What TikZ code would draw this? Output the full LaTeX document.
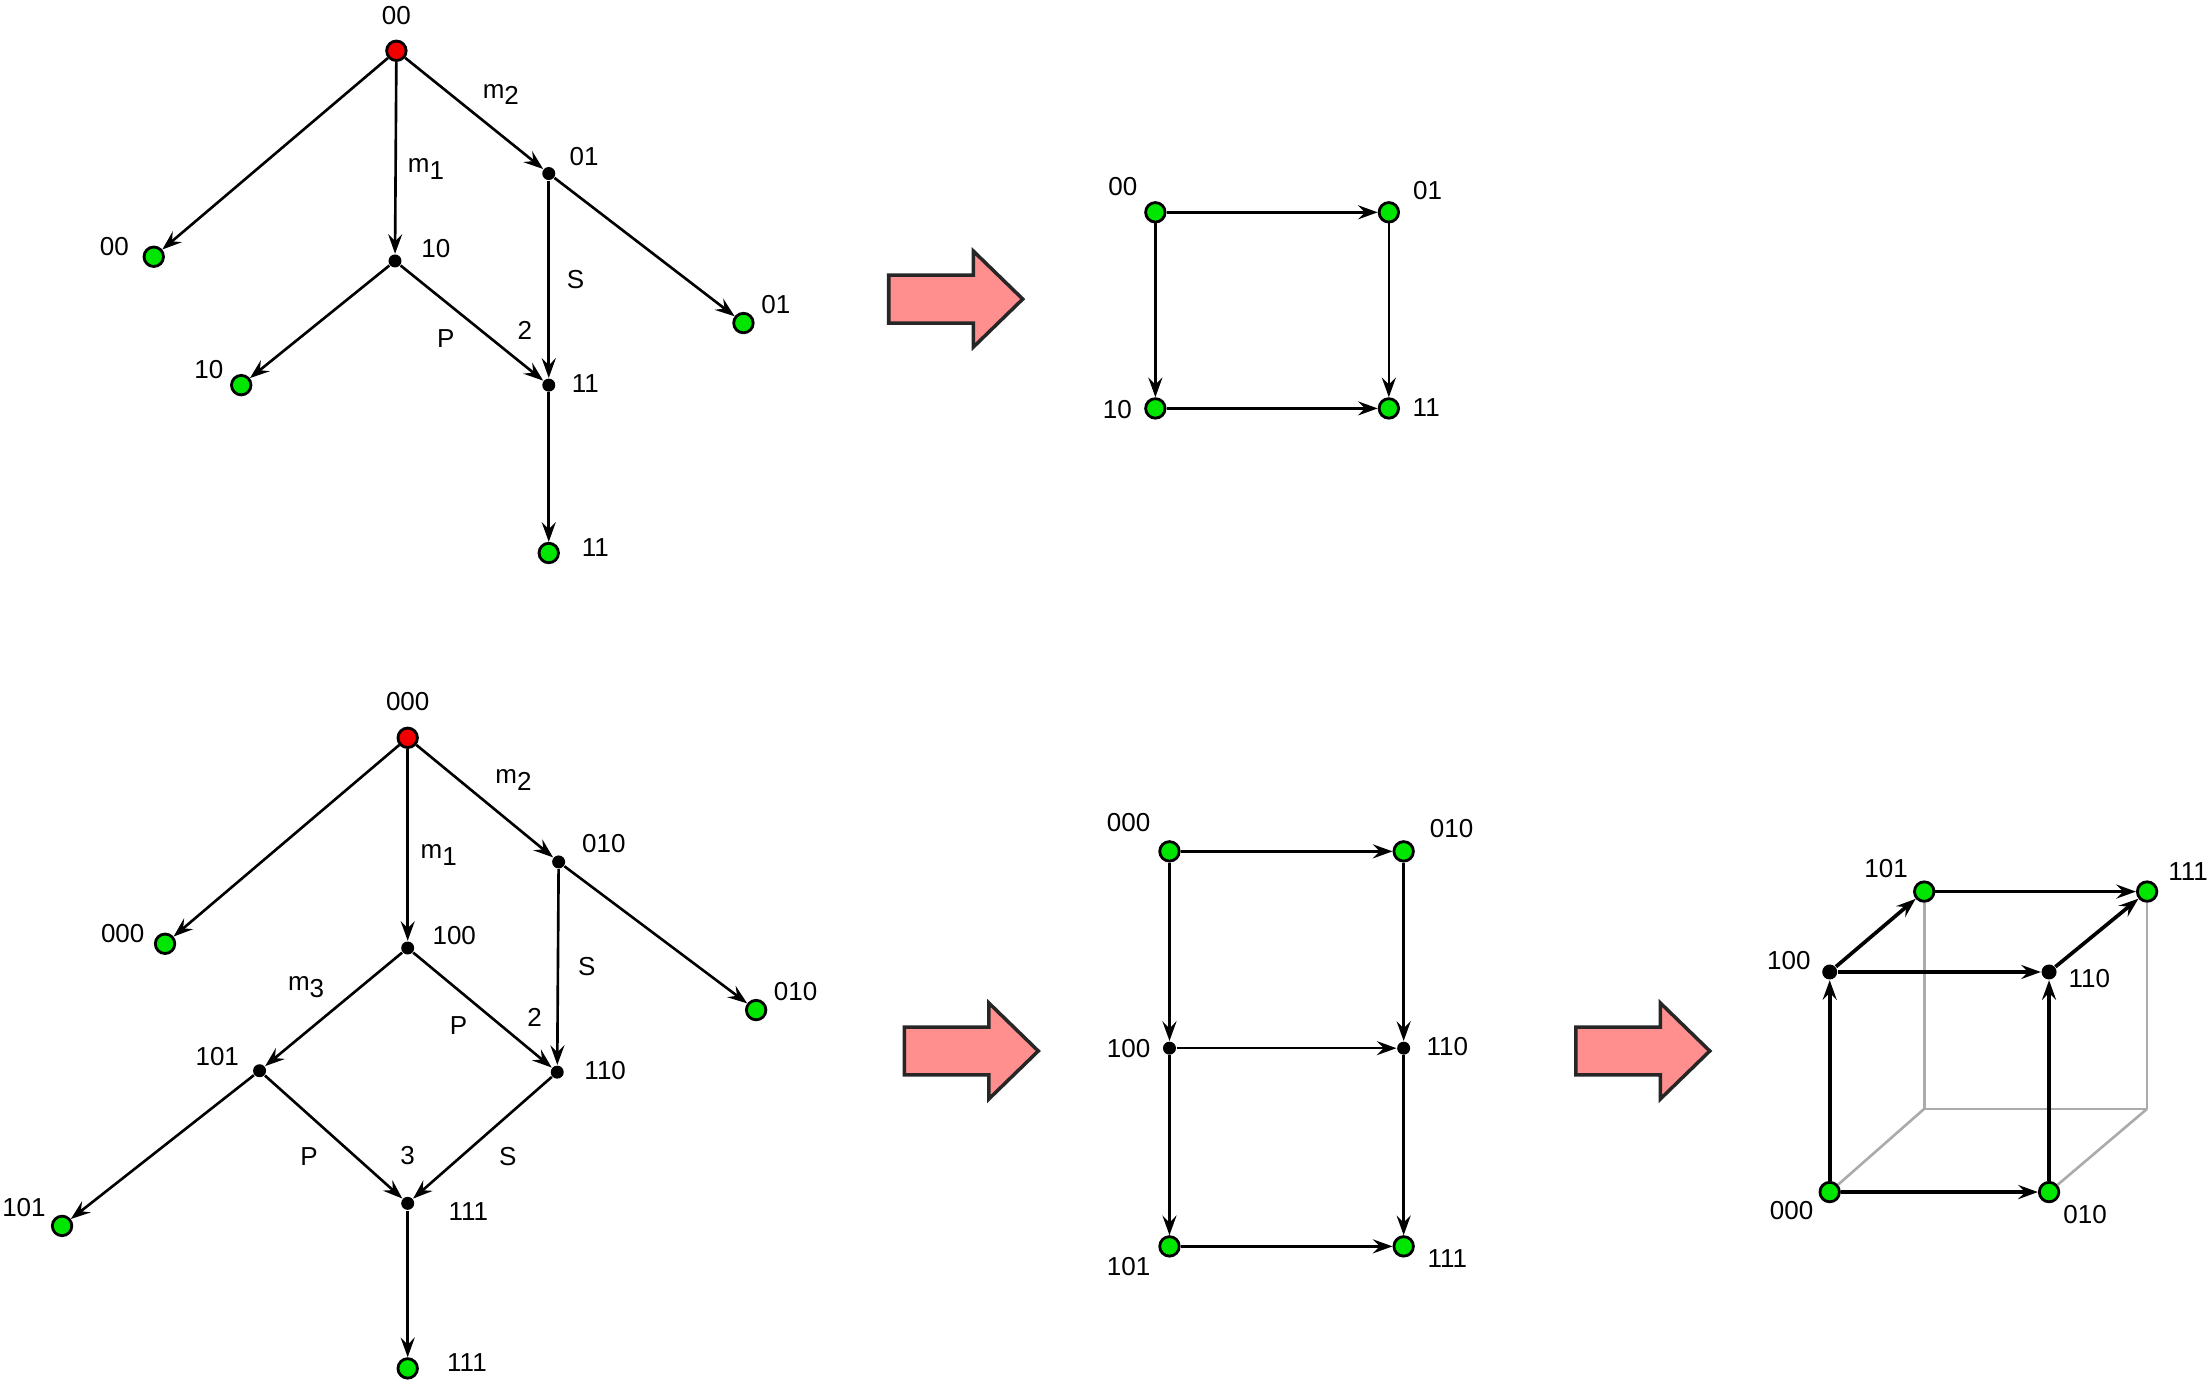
\documentclass[tikz,border=0pt]{standalone}
\usepackage{fontspec}
\setmainfont{Liberation Sans}
\usetikzlibrary{arrows.meta}
\definecolor{NodeGreen}{HTML}{00E600}
\definecolor{RootRed}{HTML}{F20000}
\definecolor{ArrowPink}{HTML}{FF8F8F}
\definecolor{HiddenGray}{HTML}{ABABAB}
\newcommand{\msub}[2]{#1\raisebox{-0.5ex}{#2}}
\tikzset{bigarrow/.pic={
  \draw[line width=1pt,draw=black!85,fill=ArrowPink,line join=miter]
    (-47,-17) -- (13,-17) -- (13,-34) -- (48,0) -- (13,34) -- (13,17) -- (-47,17) -- cycle;}}
\begin{document}
\begin{tikzpicture}[x=0.014107cm,y=-0.014107cm,>={Stealth[length=5.6pt,width=4pt,inset=2pt]}]
  \tikzstyle{leaf}=[circle,draw=black,line width=0.8pt,fill=NodeGreen,inner sep=0pt,minimum size=1.95mm]
  \tikzstyle{rootnode}=[leaf,fill=RootRed]
  \tikzstyle{midnode}=[circle,fill=black,inner sep=0pt,minimum size=1.3mm]
  \tikzstyle{cubenode}=[midnode,minimum size=1.5mm]
  \tikzstyle{lbl}=[inner sep=0pt,font=\fontsize{7.4}{8.5}\selectfont]
  \tikzstyle{arr}=[->,line width=0.75pt]
  \tikzstyle{cubearr}=[->,line width=1.05pt]
  \tikzstyle{hid}=[line width=0.75pt,draw=HiddenGray]
  \useasboundingbox (0,0) rectangle (1568,981);

  % top tree
  \node[rootnode] (r1) at (281,36) {};
  \node[leaf] (a00) at (109,182) {};
  \node[midnode] (a10) at (280,185) {};
  \node[midnode] (a01) at (389,123) {};
  \node[leaf] (a01l) at (527,229) {};
  \node[leaf] (a10l) at (171,273) {};
  \node[midnode] (a11) at (389,273) {};
  \node[leaf] (a11l) at (389,392) {};
  \node[lbl] (tr1) at (281,11) {00};
  \node[lbl] (ta00) at (81,175) {00};
  \node[lbl] (ta10) at (309,176) {10};
  \node[lbl] (ta01) at (414,111) {01};
  \node[lbl] (ta01l) at (550,216) {01};
  \node[lbl] (ta10l) at (148,262) {10};
  \node[lbl] (ta11) at (415,272) {11};
  \node[lbl] (ta11l) at (422,388) {11};
  \draw[arr] (r1) -- (a00);
  \draw[arr] (r1) -- (a10);
  \draw[arr] (r1) -- (a01);
  \draw[arr] (a01) -- (a01l);
  \draw[arr] (a01) -- (a11);
  \draw[arr] (a10) -- (a10l);
  \draw[arr] (a10) -- (a11);
  \draw[arr] (a11) -- (a11l);
  \node[lbl] (ma1) at (302,120) {\msub{m}{1}};
  \node[lbl] (ma2) at (355,67) {\msub{m}{2}};
  \node[lbl] (sa1) at (408,198) {S};
  \node[lbl] (pa1) at (316,240) {P};
  \node[lbl] (na2) at (372,234) {2};

  % top square
  \node[leaf] (s00) at (819,150.5) {};
  \node[leaf] (s01) at (984.5,150.5) {};
  \node[leaf] (s10) at (819,289.5) {};
  \node[leaf] (s11) at (984.5,289.5) {};
  \node[lbl] (ts00) at (796,132) {00};
  \node[lbl] (ts01) at (1012,135) {01};
  \node[lbl] (ts10) at (792,290) {10};
  \node[lbl] (ts11) at (1011,289) {11};
  \draw[arr] (s00) -- (s01);
  \draw[arr] (s00) -- (s10);
  \draw[arr] (s10) -- (s11);
  \draw[arr] (s01) -- (s11);

  % bottom tree
  \node[rootnode] (r2) at (289,523) {};
  \node[leaf] (b000) at (117,669) {};
  \node[midnode] (b100) at (289,672) {};
  \node[midnode] (b010) at (396,611) {};
  \node[leaf] (b010l) at (536,716) {};
  \node[midnode] (b101) at (184,759) {};
  \node[midnode] (b110) at (395,760) {};
  \node[midnode] (b111) at (289,853) {};
  \node[leaf] (b101l) at (44,869) {};
  \node[leaf] (b111l) at (289,970) {};
  \node[lbl] (tr2) at (289,497) {000};
  \node[lbl] (tb000) at (87,662) {000};
  \node[lbl] (tb100) at (322,663) {100};
  \node[lbl] (tb010) at (428,598) {010};
  \node[lbl] (tb010l) at (564,703) {010};
  \node[lbl] (tb101) at (154,749) {101};
  \node[lbl] (tb110) at (429,759) {110};
  \node[lbl] (tb111) at (332,859) {111};
  \node[lbl] (tb101l) at (17,856) {101};
  \node[lbl] (tb111l) at (331,966) {111};
  \draw[arr] (r2) -- (b000);
  \draw[arr] (r2) -- (b100);
  \draw[arr] (r2) -- (b010);
  \draw[arr] (b010) -- (b010l);
  \draw[arr] (b010) -- (b110);
  \draw[arr] (b100) -- (b101);
  \draw[arr] (b100) -- (b110);
  \draw[arr] (b101) -- (b101l);
  \draw[arr] (b101) -- (b111);
  \draw[arr] (b110) -- (b111);
  \draw[arr] (b111) -- (b111l);
  \node[lbl] (mb2) at (364,553) {\msub{m}{2}};
  \node[lbl] (mb1) at (311,606) {\msub{m}{1}};
  \node[lbl] (mb3) at (217,700) {\msub{m}{3}};
  \node[lbl] (pb1) at (325,727) {P};
  \node[lbl] (nb2) at (379,721) {2};
  \node[lbl] (sb1) at (416,685) {S};
  \node[lbl] (pb2) at (219,820) {P};
  \node[lbl] (nb3) at (289,819) {3};
  \node[lbl] (sb2) at (360,820) {S};

  % middle grid
  \node[leaf] (q000) at (829,603.5) {};
  \node[leaf] (q010) at (995,603.5) {};
  \node[midnode] (q100) at (829,743) {};
  \node[midnode] (q110) at (995,743) {};
  \node[leaf] (q101) at (829,883.5) {};
  \node[leaf] (q111) at (995,883.5) {};
  \node[lbl] (tq000) at (800,583) {000};
  \node[lbl] (tq010) at (1029,587) {010};
  \node[lbl] (tq100) at (800,743) {100};
  \node[lbl] (tq110) at (1026,742) {110};
  \node[lbl] (tq101) at (800,898) {101};
  \node[lbl] (tq111) at (1026,892) {111};
  \draw[arr] (q000) -- (q010);
  \draw[arr] (q000) -- (q100);
  \draw[arr] (q100) -- (q101);
  \draw[arr] (q100) -- (q110);
  \draw[arr] (q010) -- (q110);
  \draw[arr] (q110) -- (q111);
  \draw[arr] (q101) -- (q111);

  % cube
  \coordinate (k1) at (1364,786);
  \coordinate (k2) at (1522,786);
  \node[leaf] (c000) at (1297,845) {};
  \node[leaf] (c010) at (1452.5,845) {};
  \node[cubenode] (c100) at (1297,689) {};
  \node[cubenode] (c110) at (1452.5,689) {};
  \node[leaf] (c101) at (1364,632) {};
  \node[leaf] (c111) at (1522,632) {};
  \draw[hid] (k1) -- (c101);
  \draw[hid] (k1) -- (c000);
  \draw[hid] (k1) -- (k2);
  \draw[hid] (k2) -- (c111);
  \draw[hid] (k2) -- (c010);
  \node[lbl] (tc000) at (1270,858) {000};
  \node[lbl] (tc010) at (1478,861) {010};
  \node[lbl] (tc100) at (1268,681) {100};
  \node[lbl] (tc110) at (1481,694) {110};
  \node[lbl] (tc101) at (1337,616) {101};
  \node[lbl] (tc111) at (1551,618) {111};
  \draw[cubearr] (c000) -- (c100);
  \draw[cubearr] (c000) -- (c010);
  \draw[cubearr] (c010) -- (c110);
  \draw[cubearr] (c100) -- (c110);
  \draw[cubearr] (c100) -- (c101);
  \draw[cubearr] (c110) -- (c111);
  \draw[cubearr] (c101) -- (c111);

  % big arrows
  \pic (arrA) at (677,212) {bigarrow};
  \pic (arrB) at (688,745) {bigarrow};
  \pic (arrC) at (1164,745) {bigarrow};
\end{tikzpicture}
\end{document}
